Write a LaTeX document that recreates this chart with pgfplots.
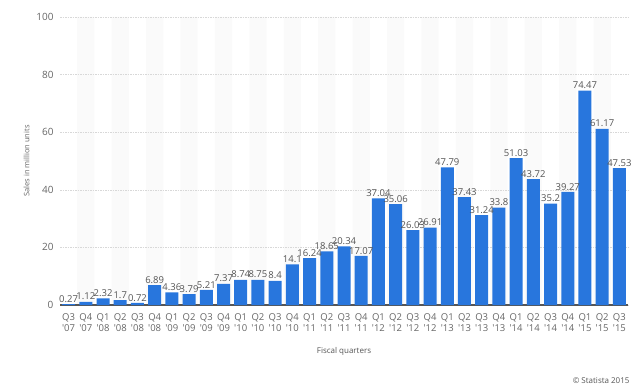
\documentclass[border=0pt]{standalone}
\usepackage{pgfplots}
\usepackage{pgfplotstable}
\pgfplotsset{compat=1.18}
\usepackage{fontspec}
\setmainfont{Open Sans}
\definecolor{barblue}{HTML}{2876DD}
\definecolor{txtgrey}{HTML}{555555}
\definecolor{lblgrey}{HTML}{666666}
\definecolor{gridgrey}{HTML}{D8D8D8}
\definecolor{stripe}{HTML}{FAFAFA}
\pgfplotstableread{
x y lab
0 0.27 0.27
1 1.12 1.12
2 2.32 2.32
3 1.7 1.7
4 0.72 0.72
5 6.89 6.89
6 4.36 4.36
7 3.79 3.79
8 5.21 5.21
9 7.37 7.37
10 8.74 8.74
11 8.75 8.75
12 8.4 8.4
13 14.1 14.1
14 16.24 16.24
15 18.65 18.65
16 20.34 20.34
17 17.07 17.07
18 37.04 37.04
19 35.06 35.06
20 26.03 26.03
21 26.91 26.91
22 47.79 47.79
23 37.43 37.43
24 31.24 31.24
25 33.8 33.8
26 51.03 51.03
27 43.72 43.72
28 35.2 35.2
29 39.27 39.27
30 74.47 74.47
31 61.17 61.17
32 47.53 47.53
}\sales
\begin{document}
\begin{tikzpicture}
\begin{axis}[
  set layers,
  at={(60pt,84pt)}, anchor=south west,
  scale only axis, width=568pt, height=288pt,
  xmin=-0.5, xmax=32.5, ymin=0, ymax=100,
  ytick={0,20,40,60,80,100},
  xtick={0,...,32},
  xticklabels={Q3\\\textquotesingle07,Q4\\\textquotesingle07,Q1\\\textquotesingle08,Q2\\\textquotesingle08,Q3\\\textquotesingle08,Q4\\\textquotesingle08,Q1\\\textquotesingle09,Q2\\\textquotesingle09,Q3\\\textquotesingle09,Q4\\\textquotesingle09,Q1\\\textquotesingle10,Q2\\\textquotesingle10,Q3\\\textquotesingle10,Q4\\\textquotesingle10,Q1\\\textquotesingle11,Q2\\\textquotesingle11,Q3\\\textquotesingle11,Q4\\\textquotesingle11,Q1\\\textquotesingle12,Q2\\\textquotesingle12,Q3\\\textquotesingle12,Q4\\\textquotesingle12,Q1\\\textquotesingle13,Q2\\\textquotesingle13,Q3\\\textquotesingle13,Q4\\\textquotesingle13,Q1\\\textquotesingle14,Q2\\\textquotesingle14,Q3\\\textquotesingle14,Q4\\\textquotesingle14,Q1\\\textquotesingle15,Q2\\\textquotesingle15,Q3\\\textquotesingle15},
  xticklabel style={align=center, font=\fontsize{9.5}{11}\selectfont, text=lblgrey, yshift=-5pt},
  yticklabel style={font=\fontsize{10}{12}\selectfont, text=lblgrey, xshift=-3pt},
  /pgf/number format/assume math mode=true,
  major tick length=0pt,
  axis lines=left,
  x axis line style={draw=txtgrey, line width=1.2pt, -},
  y axis line style={draw=none, -},
  ymajorgrids, grid style={draw=gridgrey, dash pattern=on 1.5pt off 1pt, line width=0.5pt},
  ylabel={Sales in million units},
  ylabel style={font=\fontsize{7.5}{9}\selectfont, text=lblgrey},
  xlabel={Fiscal quarters},
  xlabel style={font=\fontsize{8}{10}\selectfont, text=txtgrey, yshift=-9pt},
  clip=false,
]
\addplot[ybar, bar width=1, fill=stripe, draw=none, on layer=axis background]
  coordinates {(1,100) (3,100) (5,100) (7,100) (9,100) (11,100) (13,100) (15,100) (17,100) (19,100) (21,100) (23,100) (25,100) (27,100) (29,100) (31,100)};
\addplot[ybar, bar width=13pt, fill=barblue, draw=none,
  point meta=explicit symbolic,
  nodes near coords,
  nodes near coords style={font=\fontsize{9.5}{11}\selectfont, text=txtgrey, inner sep=1.5pt}]
  table[x=x, y=y, meta=lab]{\sales};
\end{axis}
\node[anchor=south east, font=\fontsize{8}{10}\selectfont, text=txtgrey] at (633pt,2pt) {© Statista 2015};
\path (0pt,0pt) rectangle (640pt,389pt);
\end{tikzpicture}
\end{document}
